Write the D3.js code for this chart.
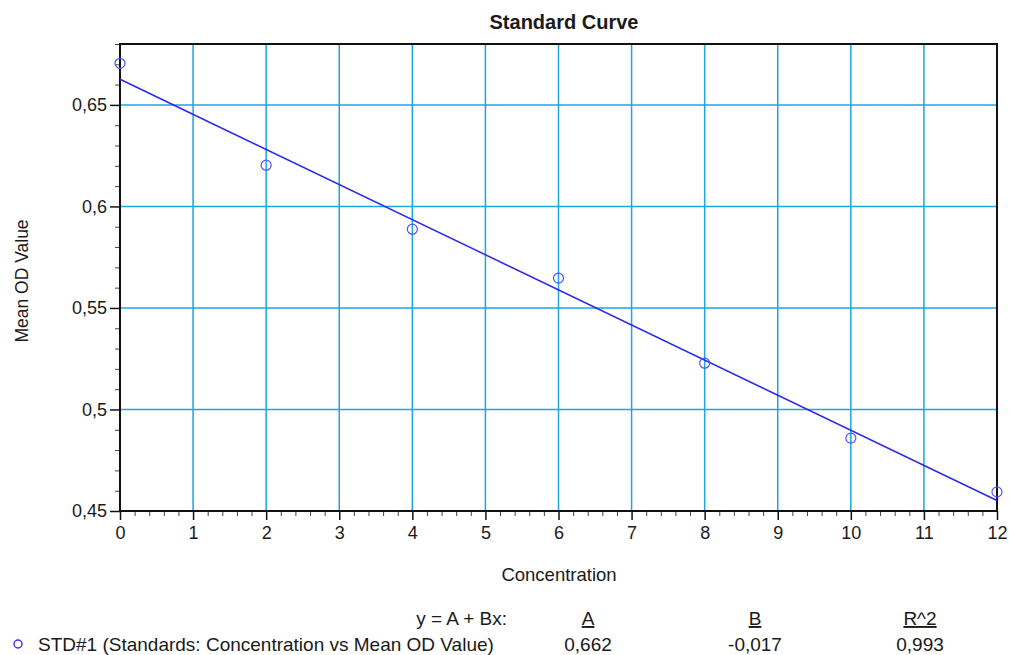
<!DOCTYPE html>
<html>
<head>
<meta charset="utf-8">
<script src="https://cdn.jsdelivr.net/npm/d3@7"></script>
<style>
  body { margin: 0; background: #fff; }
  text { font-family: "Liberation Sans", Arial, sans-serif; fill: #1a1a1a; }
</style>
</head>
<body>
<div id="chart"></div>
<script>
// standards
const concentration = [0, 2, 4, 6, 8, 10, 12];
const meanOD = [0.6705, 0.6203, 0.5888, 0.5647, 0.5228, 0.4859, 0.4594];

const xTicks = [0, 1, 2, 3, 4, 5, 6, 7, 8, 9, 10, 11, 12];
const yTicks = [0.45, 0.5, 0.55, 0.6, 0.65];

const fitHeaders = ["A", "B", "R^2"];
const fitValues = ["0,662", "-0,017", "0,993"];
const seriesName = "STD#1 (Standards: Concentration vs Mean OD Value)";

const width = 1009, height = 655;
const margin = { top: 44, right: 12, bottom: 144, left: 120 };

const svg = d3.select("#chart").append("svg")
    .attr("width", width)
    .attr("height", height);

const x = d3.scaleLinear().domain([0, 12]).range([margin.left, width - margin.right]);
const y = d3.scaleLinear().domain([0.45, 0.68]).range([height - margin.bottom, margin.top]);

const locale = d3.formatLocale({ decimal: ",", thousands: ".", grouping: [3], currency: ["", ""] });
const fmt = d => locale.format("~g")(+d.toFixed(2));

const gridColor = "#1aa6e0";

// grid
svg.append("g").selectAll("line")
    .data(xTicks.slice(1, -1))
    .join("line")
    .attr("x1", d => x(d)).attr("x2", d => x(d))
    .attr("y1", y.range()[1]).attr("y2", y.range()[0])
    .attr("stroke", gridColor).attr("stroke-width", 1.5);

svg.append("g").selectAll("line")
    .data(yTicks.slice(1))
    .join("line")
    .attr("y1", d => y(d)).attr("y2", d => y(d))
    .attr("x1", x.range()[0]).attr("x2", x.range()[1])
    .attr("stroke", gridColor).attr("stroke-width", 1.5);

// minor ticks
const xMinor = d3.range(0, 12.001, 0.2).filter(v => Math.abs(v - Math.round(v)) > 0.01);
svg.append("g")
    .attr("transform", `translate(0,${y.range()[0]})`)
    .call(d3.axisBottom(x).tickValues(xMinor).tickSize(5).tickFormat(""))
    .call(g => g.select(".domain").remove())
    .call(g => g.selectAll("line").attr("stroke", "#444"));

const yMinor = d3.range(0.45, 0.6801, 0.01).filter(v => Math.abs(v * 20 - Math.round(v * 20)) > 0.01);
svg.append("g")
    .attr("transform", `translate(${x.range()[0]},0)`)
    .call(d3.axisLeft(y).tickValues(yMinor).tickSize(5).tickFormat(""))
    .call(g => g.select(".domain").remove())
    .call(g => g.selectAll("line").attr("stroke", "#444"));

// major axes
const xAxis = svg.append("g")
    .attr("transform", `translate(0,${y.range()[0]})`)
    .call(d3.axisBottom(x).tickValues(xTicks).tickSize(9).tickPadding(6).tickFormat(d3.format("d")))
    .call(g => g.select(".domain").remove());
xAxis.selectAll("line").attr("stroke", "#111").attr("stroke-width", 1.5);
xAxis.selectAll("text").style("font-size", "18px").style("fill", "#1a1a1a");

const yAxis = svg.append("g")
    .attr("transform", `translate(${x.range()[0]},0)`)
    .call(d3.axisLeft(y).tickValues(yTicks).tickSize(10).tickPadding(3).tickFormat(fmt))
    .call(g => g.select(".domain").remove());
yAxis.selectAll("line").attr("stroke", "#111").attr("stroke-width", 1.5);
yAxis.selectAll("text").style("font-size", "18px").style("fill", "#1a1a1a");

// frame
svg.append("rect")
    .attr("x", x.range()[0]).attr("y", y.range()[1])
    .attr("width", x.range()[1] - x.range()[0])
    .attr("height", y.range()[0] - y.range()[1])
    .attr("fill", "none").attr("stroke", "#111").attr("stroke-width", 2);

// least-squares fit through the standards
const mx = d3.mean(concentration), my = d3.mean(meanOD);
const sxy = d3.sum(concentration, (c, i) => (c - mx) * (meanOD[i] - my));
const sxx = d3.sum(concentration, c => (c - mx) ** 2);
const slope = sxy / sxx, intercept = my - slope * mx;

svg.append("line")
    .attr("x1", x(0)).attr("y1", y(intercept))
    .attr("x2", x(12)).attr("y2", y(intercept + slope * 12))
    .attr("stroke", "#2a2ae6").attr("stroke-width", 1.5);

svg.append("g").selectAll("circle")
    .data(concentration)
    .join("circle")
    .attr("cx", d => x(d))
    .attr("cy", (d, i) => y(meanOD[i]))
    .attr("r", 5)
    .attr("fill", "none")
    .attr("stroke", "#5050ff")
    .attr("stroke-width", 1.2);

// titles
svg.append("text")
    .attr("x", 564).attr("y", 29)
    .attr("text-anchor", "middle")
    .style("font-size", "20px").style("font-weight", "bold")
    .text("Standard Curve");

svg.append("text")
    .attr("x", 559).attr("y", 581)
    .attr("text-anchor", "middle")
    .style("font-size", "18.5px")
    .text("Concentration");

svg.append("text")
    .attr("transform", "translate(28,281) rotate(-90)")
    .attr("text-anchor", "middle")
    .style("font-size", "17.5px")
    .text("Mean OD Value");

// fit legend
const colX = [588, 755, 920];
svg.append("text")
    .attr("x", 507).attr("y", 625)
    .attr("text-anchor", "end")
    .style("font-size", "19px")
    .text("y = A + Bx:");

svg.append("g").selectAll("text")
    .data(fitHeaders)
    .join("text")
    .attr("x", (d, i) => colX[i]).attr("y", 625)
    .attr("text-anchor", "middle")
    .style("font-size", "19px")
    .style("text-decoration", "underline")
    .text(d => d);

svg.append("g").selectAll("text")
    .data(fitValues)
    .join("text")
    .attr("x", (d, i) => colX[i]).attr("y", 651)
    .attr("text-anchor", "middle")
    .style("font-size", "19px")
    .text(d => d);

svg.append("circle")
    .attr("cx", 18).attr("cy", 644).attr("r", 4)
    .attr("fill", "none").attr("stroke", "#3a3aee").attr("stroke-width", 1.5);

svg.append("text")
    .attr("x", 38).attr("y", 651)
    .style("font-size", "19px")
    .text(seriesName);
</script>
</body>
</html>
